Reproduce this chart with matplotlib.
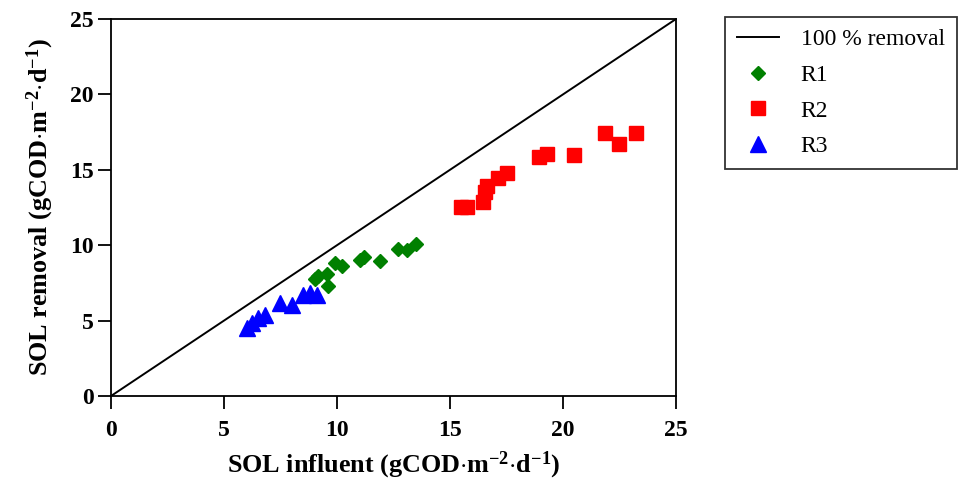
import matplotlib
matplotlib.use("Agg")
import matplotlib.pyplot as plt

plt.rcParams['font.family'] = ['Liberation Serif', 'DejaVu Serif']
plt.rcParams['mathtext.fontset'] = 'custom'
plt.rcParams['mathtext.rm'] = 'Liberation Serif:bold'
plt.rcParams['mathtext.it'] = 'Liberation Serif:bold'
plt.rcParams['mathtext.bf'] = 'Liberation Serif:bold'
plt.rcParams['mathtext.default'] = 'rm'

# Data
r1_x = [9.03, 9.15, 9.54, 9.62, 9.91, 10.2, 11.0, 11.2, 11.9, 12.7, 13.1, 13.5]
r1_y = [7.75, 7.95, 8.1, 7.3, 8.8, 8.65, 9.0, 9.25, 8.95, 9.75, 9.65, 10.1]

r2_x = [15.5, 15.75, 16.47, 16.55, 16.65, 17.14, 17.51, 18.94, 19.31, 20.5, 21.86, 22.49, 23.23]
r2_y = [12.55, 12.55, 12.88, 13.55, 13.9, 14.44, 14.81, 15.87, 16.05, 15.98, 17.46, 16.69, 17.46]

r3_x = [6.0, 6.23, 6.52, 6.81, 7.48, 8.0, 8.51, 8.81, 9.10]
r3_y = [4.49, 4.82, 5.15, 5.37, 6.15, 6.03, 6.70, 6.81, 6.70]

line_x = [0, 25]
line_y = [0, 25]

ticks = [0, 5, 10, 15, 20, 25]

fig = plt.figure(figsize=(9.62, 4.88), dpi=100)
ax = fig.add_axes([111/962, 1-396/488, (676-111)/962, (396-19)/488])

ax.plot(line_x, line_y, color='black', lw=1.4, label='100 % removal')
ax.plot(r1_x, r1_y, 'D', color='#008000', ms=7.5, ls='none', label='R1')
ax.plot(r2_x, r2_y, 's', color='#ff0000', ms=10.5, ls='none', label='R2')
ax.plot(r3_x, r3_y, '^', color='#0000ff', ms=11, ls='none', label='R3')

ax.set_xlim(0, 25)
ax.set_ylim(0, 25)
ax.set_xticks(ticks)
ax.set_yticks(ticks)
ax.tick_params(direction='out', length=9.5, width=1.3, labelsize=17)
ax.tick_params(axis='x', pad=8)
ax.tick_params(axis='y', pad=3)
for lab in ax.get_xticklabels() + ax.get_yticklabels():
    lab.set_fontweight('bold')
for sp in ax.spines.values():
    sp.set_linewidth(1.3)

ax.set_xlabel('SOL influent (gCOD$\\cdot$m$^{-2}$$\\cdot$d$^{-1}$)', fontsize=18.8, fontweight='bold', labelpad=6)
ax.set_ylabel('SOL removal (gCOD$\\cdot$m$^{-2}$$\\cdot$d$^{-1}$)', fontsize=18.8, fontweight='bold', labelpad=10)

leg = fig.legend(loc='upper left', bbox_to_anchor=(725/962, 1-17/488), fontsize=17,
                 frameon=True, fancybox=False, edgecolor='black', borderpad=0.5,
                 borderaxespad=0, labelspacing=0.6, handlelength=1.78, handletextpad=0.93)
leg.get_frame().set_linewidth(1.3)

fig.savefig('out.png', dpi=100)
